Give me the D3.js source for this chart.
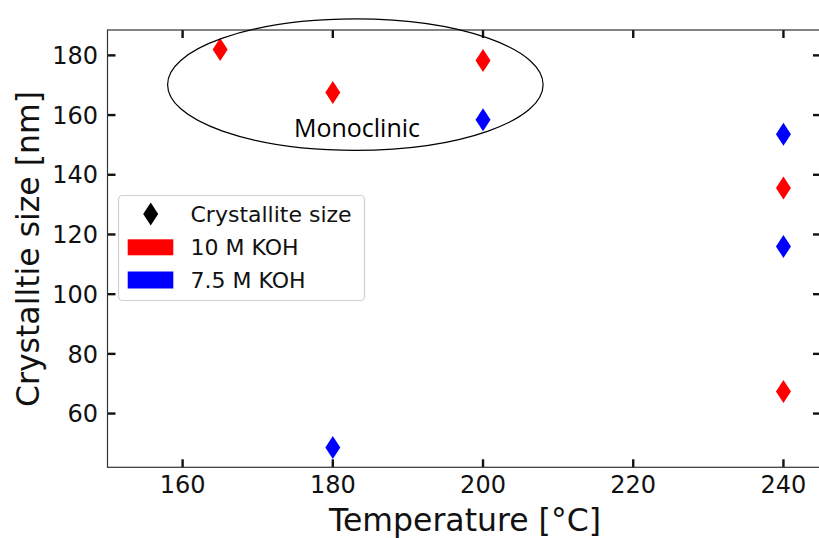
<!DOCTYPE html>
<html>
<head>
<meta charset="utf-8">
<script src="https://cdn.jsdelivr.net/npm/d3@7"></script>
<style>
  html, body { margin: 0; padding: 0; background: #fff; }
  svg { display: block; }
  text { font-family: "DejaVu Sans", sans-serif; fill: #111; }
</style>
</head>
<body>
<svg id="chart" width="819" height="538"></svg>
<script>
// Crystallite size vs. synthesis temperature
const temps10M   = [165, 180, 200, 240, 240];
const sizes10M   = [182.0, 167.6, 178.3, 135.6, 67.4];
const temps75M   = [180, 200, 240, 240];
const sizes75M   = [48.6, 158.4, 153.6, 116.0];
const xTicks = [160, 180, 200, 220, 240];
const yTicks = [60, 80, 100, 120, 140, 160, 180];
const legendLabels = ["Crystallite size", "10 M KOH", "7.5 M KOH"];
const xLabel = "Temperature [°C]";
const yLabel = "Crystalltie size [nm]";
const regionLabel = "Monoclinic";
// Ellipse around the monoclinic group: centre (x, y) and full width/height in data units
const regionCenter = [183, 170.2];
const regionSize = [50, 44];

const svg = d3.select("#chart");
const plotLeft = 107.5, plotRight = 821, plotTop = 30, plotBottom = 467.3;

const x = d3.scaleLinear().domain([150, 245]).range([plotLeft, plotRight]);
const y = d3.scaleLinear().domain([42.0, 188.5]).range([plotBottom, plotTop]);

const spineColor = "#333";
const tickLen = 8;

// tick marks (inward on all four sides)
const tickG = svg.append("g").attr("stroke", "#111").attr("stroke-width", 2.4);
xTicks.forEach(v => {
  tickG.append("line").attr("x1", x(v)).attr("x2", x(v)).attr("y1", plotBottom).attr("y2", plotBottom - tickLen);
  tickG.append("line").attr("x1", x(v)).attr("x2", x(v)).attr("y1", plotTop).attr("y2", plotTop + tickLen);
});
yTicks.forEach(v => {
  tickG.append("line").attr("x1", plotLeft).attr("x2", plotLeft + tickLen).attr("y1", y(v)).attr("y2", y(v));
  tickG.append("line").attr("x1", plotRight).attr("x2", plotRight - tickLen).attr("y1", y(v)).attr("y2", y(v));
});

// spines
svg.append("rect")
  .attr("x", plotLeft).attr("y", plotTop)
  .attr("width", plotRight - plotLeft).attr("height", plotBottom - plotTop)
  .attr("fill", "none").attr("stroke", spineColor).attr("stroke-width", 1.2);

// tick labels
svg.append("g").selectAll("text").data(xTicks).join("text")
  .attr("x", d => x(d)).attr("y", 493)
  .attr("text-anchor", "middle").attr("font-size", 24)
  .text(d => d);
svg.append("g").selectAll("text").data(yTicks).join("text")
  .attr("x", 98).attr("y", d => y(d))
  .attr("dy", "0.36em")
  .attr("text-anchor", "end").attr("font-size", 24)
  .text(d => d);

// axis titles
svg.append("text")
  .attr("x", 465).attr("y", 531)
  .attr("text-anchor", "middle").attr("font-size", 31.5)
  .text(xLabel);
svg.append("text")
  .attr("transform", "translate(39,249) rotate(-90)")
  .attr("text-anchor", "middle").attr("font-size", 31.5)
  .text(yLabel);

// thin diamond marker
const dw = 15, dh = 23;
const diamond = `M0,${-dh/2}L${dw/2},0L0,${dh/2}L${-dw/2},0Z`;

function plotSeries(xs, ys, color) {
  svg.append("g").selectAll("path").data(xs.map((t, i) => [t, ys[i]])).join("path")
    .attr("d", diamond)
    .attr("transform", d => `translate(${x(d[0])},${y(d[1])})`)
    .attr("fill", color);
}
plotSeries(temps10M, sizes10M, "#ff0000");
plotSeries(temps75M, sizes75M, "#0000ff");

// monoclinic region
const rx = Math.abs(x(regionCenter[0] + regionSize[0] / 2) - x(regionCenter[0]));
const ry = Math.abs(y(regionCenter[1] + regionSize[1] / 2) - y(regionCenter[1]));
svg.append("ellipse")
  .attr("cx", x(regionCenter[0])).attr("cy", y(regionCenter[1]))
  .attr("rx", rx).attr("ry", ry)
  .attr("fill", "none").attr("stroke", "#000").attr("stroke-width", 1.2);
svg.append("text")
  .attr("x", 357).attr("y", 136.5)
  .attr("text-anchor", "middle")
  .style("font-family", "'Open Sans', sans-serif")
  .attr("font-size", 25)
  .style("fill", "#000")
  .text(regionLabel);

// legend
const lg = svg.append("g");
lg.append("rect")
  .attr("x", 118.5).attr("y", 195.5).attr("width", 246).attr("height", 105)
  .attr("rx", 4)
  .attr("fill", "#fff").attr("fill-opacity", 0.85)
  .attr("stroke", "#d0d0d0").attr("stroke-width", 1.2);
lg.append("path").attr("d", diamond)
  .attr("transform", "translate(150.7,214)").attr("fill", "#000");
lg.append("rect").attr("x", 127.7).attr("y", 239.3).attr("width", 45.6).attr("height", 16).attr("fill", "#ff0000");
lg.append("rect").attr("x", 127.7).attr("y", 271.5).attr("width", 45.6).attr("height", 17).attr("fill", "#0000ff");
const legendY = [214, 247.3, 280];
lg.selectAll("text.lbl").data(legendLabels).join("text")
  .attr("class", "lbl")
  .attr("x", 190.5).attr("y", (d, i) => legendY[i])
  .attr("dy", "0.36em").attr("font-size", 22)
  .text(d => d);
</script>
</body>
</html>
